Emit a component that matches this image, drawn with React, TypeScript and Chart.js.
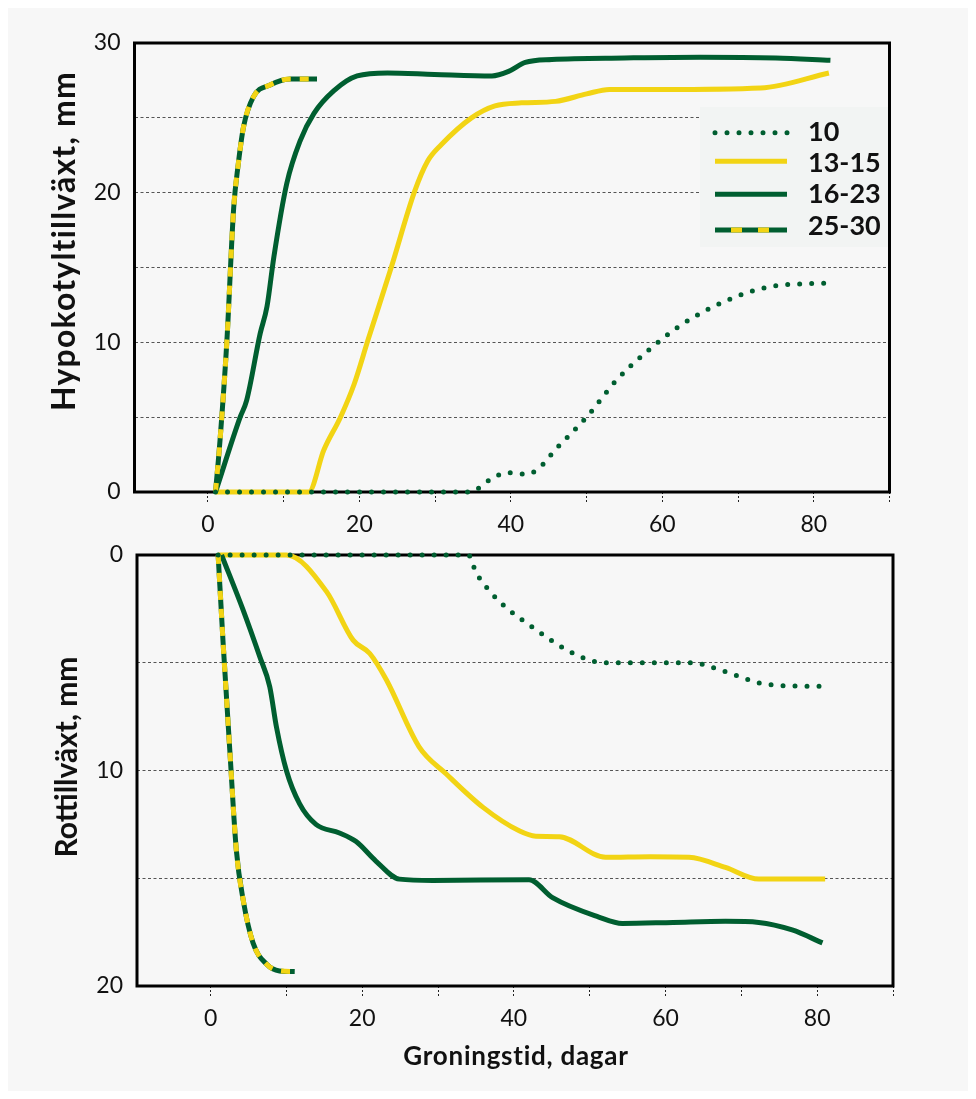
import React, { useEffect, useRef } from 'react';
import { Chart, registerables } from 'chart.js';
Chart.register(...registerables);

const GREEN = '#005e30';
const YELLOW = '#f2d414';
const FONT = 'Lato, "DejaVu Sans", sans-serif';

// ---- Hypokotyltillväxt (top) ----
const hyp10X = [1, 34.5, 37.5, 39.5, 42, 43.5, 46, 50, 54, 58, 62, 66, 70, 74, 78, 82.5];
const hyp10Y = [0, 0, 0.9, 1.3, 1.2, 1.5, 2.9, 5.0, 7.5, 9.4, 11.0, 12.2, 13.1, 13.7, 13.9, 13.95];
const hyp13X = [1, 13.3, 15.3, 17.5, 19.3, 21.1, 24.2, 27.3, 29.0, 30.8, 34.8, 37.9, 41.4, 45.9, 50, 53, 60, 73, 82];
const hyp13Y = [0, 0, 2.8, 5.0, 7.2, 10.1, 15.0, 20.1, 22.1, 23.2, 25.0, 25.8, 26.0, 26.1, 26.6, 26.9, 26.9, 27.0, 28.0];
const hyp16X = [1, 4.25, 5.1, 6.9, 7.8, 8.7, 10.4, 12.2, 14.0, 16.6, 19.7, 23.7, 29.9, 37.5, 39.7, 41.9, 45.4, 55, 65, 75, 82.2];
const hyp16Y = [0, 5.0, 6.1, 10.6, 12.4, 15.7, 20.6, 23.5, 25.3, 26.8, 27.8, 28.0, 27.9, 27.8, 28.1, 28.7, 28.9, 29.0, 29.05, 29.0, 28.85];
const hyp25X = [1, 1.6, 2.5, 3.4, 4.0, 4.7, 6.0, 8.2, 10.9, 14.4];
const hyp25Y = [0, 3.5, 10.1, 19.0, 21.9, 24.4, 26.4, 27.2, 27.6, 27.6];

// ---- Rottillväxt (bottom) ----
const rot10X = [1, 34, 35, 37, 39.4, 42.1, 44.9, 47.7, 50.8, 53, 58, 63.7, 66, 68.6, 70.2, 71.8, 73.5, 76.8, 81.7];
const rot10Y = [0, 0, 0.8, 1.75, 2.56, 3.26, 3.95, 4.54, 4.95, 5.0, 5.0, 5.0, 5.2, 5.5, 5.69, 5.89, 6.0, 6.08, 6.09];
const rot13X = [1, 10, 15.3, 18.8, 21.0, 23.2, 27.5, 31.05, 35.9, 40.7, 42.9, 46.0, 52.1, 58, 63.1, 67.9, 72.3, 81.05];
const rot13Y = [0, 0, 1.7, 3.95, 4.57, 5.8, 8.9, 10.15, 11.7, 12.8, 13.05, 13.07, 14.03, 14.0, 14.03, 14.5, 15.04, 15.04];
const rot16X = [1.45, 4.3, 6.5, 7.8, 8.7, 10.0, 11.75, 13.9, 17.0, 19.2, 21.8, 24.9, 29.3, 42.0, 45.1, 51.2, 54.3, 61, 67.9, 72.3, 76.7, 80.7];
const rot16Y = [0, 2.56, 4.73, 6.1, 8.0, 10.0, 11.55, 12.5, 12.9, 13.3, 14.2, 15.04, 15.1, 15.07, 15.9, 16.8, 17.1, 17.05, 17.0, 17.05, 17.4, 18.0];
const rot25X = [1.0, 1.66, 2.54, 3.4, 4.3, 5.6, 7.4, 9.1, 11.1];
const rot25Y = [0, 4.1, 9.07, 13.7, 16.0, 18.0, 18.99, 19.3, 19.33];

const legendLabels = ['10', '13-15', '16-23', '25-30'];
const xTitle = 'Groningstid, dagar';
const topTitle = 'Hypokotyltillväxt, mm';
const bottomTitle = 'Rottillväxt, mm';

const pts = (xs: number[], ys: number[]) => xs.map((x, i) => ({ x, y: ys[i] }));

const baseLine = {
  pointRadius: 0,
  borderWidth: 5,
  fill: false,
  cubicInterpolationMode: 'monotone' as const,
  clip: false as any,
};

function makeDatasets(d10: any, d13: any, d16: any, d25: any) {
  return [
    { ...baseLine, label: '10', data: d10, borderColor: GREEN, borderDash: [0, 12], borderCapStyle: 'round', order: 0 },
    { ...baseLine, label: '25-30 y', data: d25, borderColor: YELLOW, borderDash: [9, 9], borderCapStyle: 'butt', order: 1 },
    { ...baseLine, label: '25-30', data: d25, borderColor: GREEN, borderCapStyle: 'butt', order: 2 },
    { ...baseLine, label: '16-23', data: d16, borderColor: GREEN, order: 3 },
    { ...baseLine, label: '13-15', data: d13, borderColor: YELLOW, order: 4 },
  ];
}

const framePlugin = {
  id: 'frame',
  beforeDatasetsDraw(chart: any) {
    const { ctx, chartArea: a } = chart;
    ctx.save();
    ctx.strokeStyle = '#000';
    ctx.lineWidth = 3;
    ctx.strokeRect(a.left, a.top, a.right - a.left, a.bottom - a.top);
    ctx.restore();
  },
};

// bold text fitted to a target length: grow font up to maxSize, then a little tracking
function fittedText(ctx: CanvasRenderingContext2D, text: string, target: number, size: number, maxSize: number) {
  (ctx as any).letterSpacing = '0px';
  ctx.font = `bold ${size}px ${FONT}`;
  let w = ctx.measureText(text).width;
  let s = size * target / w;
  if (s > maxSize) s = maxSize;
  ctx.font = `bold ${s.toFixed(2)}px ${FONT}`;
  w = ctx.measureText(text).width;
  if (w < target) {
    const sp = Math.min(1.2, (target - w) / Math.max(1, text.length - 1));
    (ctx as any).letterSpacing = `${sp.toFixed(2)}px`;
  }
  ctx.fillText(text, 0, 0);
  (ctx as any).letterSpacing = '0px';
}

function titlePlugin(yText: string, yLen: number, yx: number, yy: number, xText?: string, xLen?: number, xx?: number, xy?: number) {
  return {
    id: 'titles',
    afterDraw(chart: any) {
      const ctx = chart.ctx;
      ctx.save();
      ctx.fillStyle = '#111';
      ctx.textAlign = 'center';
      ctx.textBaseline = 'middle';
      ctx.translate(yx, yy);
      ctx.rotate(-Math.PI / 2);
      fittedText(ctx, yText, yLen, 29, 32);
      ctx.restore();
      if (xText) {
        ctx.save();
        ctx.fillStyle = '#111';
        ctx.textAlign = 'center';
        ctx.textBaseline = 'middle';
        ctx.translate(xx, xy);
        fittedText(ctx, xText, xLen as number, 25, 26);
        ctx.restore();
      }
    },
  };
}

const legendPlugin = {
  id: 'customLegend',
  afterDatasetsDraw(chart: any) {
    const ctx = chart.ctx;
    ctx.save();
    ctx.fillStyle = '#f2f4f3';
    ctx.fillRect(692, 99, 188, 140);
    const x0 = 707, x1 = 779;
    const lineY = [124.7, 153.3, 186.3, 222];
    const textY = [124, 155, 186, 218];
    ctx.strokeStyle = GREEN;
    ctx.lineWidth = 5;
    ctx.lineCap = 'round';
    ctx.setLineDash([0, 12]);
    ctx.beginPath(); ctx.moveTo(x0, lineY[0]); ctx.lineTo(x1 + 1, lineY[0]); ctx.stroke();
    ctx.setLineDash([]);
    ctx.lineCap = 'butt';
    ctx.strokeStyle = YELLOW;
    ctx.beginPath(); ctx.moveTo(x0, lineY[1]); ctx.lineTo(x1, lineY[1]); ctx.stroke();
    ctx.strokeStyle = GREEN;
    ctx.beginPath(); ctx.moveTo(x0, lineY[2]); ctx.lineTo(x1, lineY[2]); ctx.stroke();
    ctx.beginPath(); ctx.moveTo(x0, lineY[3]); ctx.lineTo(x1, lineY[3]); ctx.stroke();
    ctx.fillStyle = YELLOW;
    ctx.fillRect(x0 + 16, lineY[3] - 2.5, 11, 5);
    ctx.fillRect(x0 + 43, lineY[3] - 2.5, 11, 5);
    ctx.fillStyle = '#111';
    ctx.font = `bold 27px ${FONT}`;
    ctx.textAlign = 'left';
    ctx.textBaseline = 'middle';
    legendLabels.forEach((t, i) => ctx.fillText(t, 800, textY[i]));
    ctx.restore();
  },
};

function xScale(height: number) {
  return {
    type: 'linear',
    min: -9.7,
    max: 90,
    afterBuildTicks: (s: any) => {
      s.ticks = s.ticks.filter((t: any) => t.value >= 0 && Math.abs(t.value % 10) < 1e-6);
    },
    afterFit: (s: any) => { s.height = height; },
    ticks: {
      stepSize: 10,
      includeBounds: false,
      autoSkip: false,
      maxRotation: 0,
      callback: (v: any) => (v % 20 === 0 && v <= 80 ? String(v) : ''),
      font: { family: FONT, size: 23 },
      color: '#111',
      padding: 8,
    },
    grid: {
      drawOnChartArea: false,
      drawTicks: true,
      tickLength: 11,
      tickColor: '#222',
      tickWidth: 1,
      tickBorderDash: [2, 2],
    },
    border: { display: false },
  };
}

function yScale(max: number, width: number, reverse: boolean) {
  return {
    type: 'linear',
    min: 0,
    max,
    reverse,
    afterFit: (s: any) => {
      s.width = width;
      s.paddingTop = 0;
      s.paddingBottom = 0;
    },
    ticks: {
      stepSize: 5,
      autoSkip: false,
      callback: (v: any) => (v % 10 === 0 ? String(v) : ''),
      font: { family: FONT, size: 23 },
      color: '#111',
      padding: 14,
    },
    grid: {
      drawTicks: false,
      lineWidth: 1,
      color: (c: any) => (c.tick && (c.tick.value === 0 || c.tick.value === max) ? 'rgba(0,0,0,0)' : '#555'),
    },
    border: { display: false, dash: [3, 2.5] },
  };
}

export default function App() {
  const topRef = useRef<HTMLCanvasElement>(null);
  const botRef = useRef<HTMLCanvasElement>(null);

  useEffect(() => {
    const top = new Chart(topRef.current as HTMLCanvasElement, {
      type: 'line',
      data: {
        datasets: makeDatasets(pts(hyp10X, hyp10Y), pts(hyp13X, hyp13Y), pts(hyp16X, hyp16Y), pts(hyp25X, hyp25Y)) as any,
      },
      options: {
        responsive: false,
        animation: false,
        layout: { padding: { top: 35, right: 78.5, left: 0, bottom: 0 } },
        plugins: { legend: { display: false }, tooltip: { enabled: false } },
        scales: { x: xScale(48) as any, y: yScale(30, 126.5, false) as any },
      },
      plugins: [framePlugin, legendPlugin, titlePlugin(topTitle, 345, 57, 233)],
    });
    const bot = new Chart(botRef.current as HTMLCanvasElement, {
      type: 'line',
      data: {
        datasets: makeDatasets(pts(rot10X, rot10Y), pts(rot13X, rot13Y), pts(rot16X, rot16Y), pts(rot25X, rot25Y)) as any,
      },
      options: {
        responsive: false,
        animation: false,
        layout: { padding: { top: 15, right: 75, left: 0, bottom: 0 } },
        plugins: { legend: { display: false }, tooltip: { enabled: false } },
        scales: { x: xScale(105) as any, y: yScale(20, 129, true) as any },
      },
      plugins: [framePlugin, titlePlugin(bottomTitle, 201, 59, 217, xTitle, 225, 508, 517)],
    });
    return () => {
      top.destroy();
      bot.destroy();
    };
  }, []);

  return (
    <div style={{ width: 960, height: 1083, background: '#f7f7f7' }}>
      <canvas ref={topRef} width={960} height={532} style={{ display: 'block' }} />
      <canvas ref={botRef} width={960} height={551} style={{ display: 'block' }} />
    </div>
  );
}
